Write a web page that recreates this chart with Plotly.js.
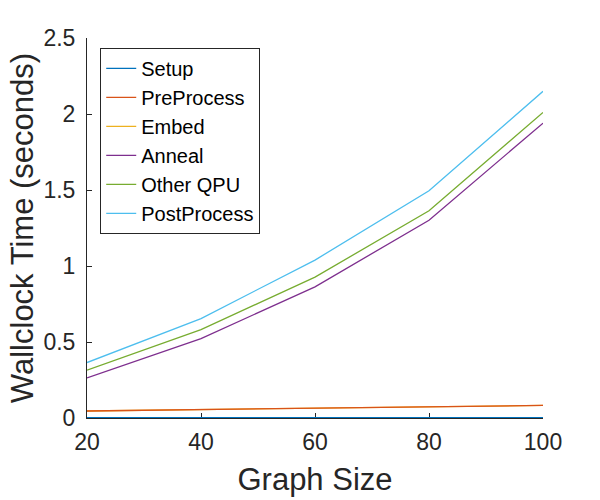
<!DOCTYPE html>
<html>
<head>
<meta charset="utf-8">
<script src="https://cdn.plot.ly/plotly-3.0.1.min.js"></script>
<style>
  body { margin: 0; }
  #chart { width: 600px; height: 500px; }
</style>
</head>
<body>
<div id="chart"></div>
<script>
// graph sizes on the x axis
var sizes = [20, 40, 60, 80, 100];

// cumulative wallclock times (seconds)
var setup       = [0.002, 0.002, 0.003, 0.003, 0.003];
var preProcess  = [0.046, 0.054, 0.064, 0.074, 0.083];
var embed       = [0.046, 0.054, 0.064, 0.074, 0.083];
var anneal      = [0.264, 0.522, 0.863, 1.301, 1.94];
var otherQPU    = [0.315, 0.581, 0.927, 1.363, 2.01];
var postProcess = [0.365, 0.654, 1.039, 1.495, 2.149];

var names  = ['Setup', 'PreProcess', 'Embed', 'Anneal', 'Other QPU', 'PostProcess'];
var series = [setup, preProcess, embed, anneal, otherQPU, postProcess];
var colors = ['#0072BD', '#D95319', '#EDB120', '#7E2F8E', '#77AC30', '#4DBEEE'];

// embed is drawn first so PreProcess sits on top of it (as in the figure)
var drawOrder = [2, 0, 1, 3, 4, 5];
var traces = drawOrder.map(function (i) {
  return {
    x: sizes,
    y: series[i],
    name: names[i],
    type: 'scatter',
    mode: 'lines',
    line: { color: colors[i], width: 1.3 },
    legendrank: i + 1
  };
});

var fam = 'Liberation Sans, Arial, sans-serif';
var axisFont = { family: fam, size: 23, color: '#262626' };

var layout = {
  width: 600,
  height: 500,
  margin: { l: 87, r: 57, t: 38, b: 82 },
  paper_bgcolor: 'white',
  plot_bgcolor: 'white',
  showlegend: true,
  legend: {
    x: 0.029, y: 0.974, xanchor: 'left', yanchor: 'top',
    bordercolor: '#262626', borderwidth: 1, bgcolor: 'white',
    font: { family: fam, size: 20, color: '#000' },
    itemwidth: 30
  },
  xaxis: {
    range: [20, 100],
    tickvals: [20, 40, 60, 80, 100],
    ticks: 'inside', ticklen: 5, tickcolor: '#262626',
    showline: true, linecolor: '#262626', linewidth: 1,
    showgrid: false, zeroline: false,
    layer: 'below traces',
    tickfont: axisFont,
    ticklabelstandoff: 3,
    title: { text: 'Graph Size', font: { family: fam, size: 31, color: '#262626' }, standoff: 14 }
  },
  yaxis: {
    range: [0, 2.5],
    tickvals: [0, 0.5, 1, 1.5, 2, 2.5],
    ticktext: ['0', '0.5', '1', '1.5', '2', '2.5'],
    ticks: 'inside', ticklen: 5, tickcolor: '#262626',
    showline: true, linecolor: '#262626', linewidth: 1,
    showgrid: false, zeroline: false,
    layer: 'below traces',
    tickfont: axisFont,
    ticklabelstandoff: 6,
    title: { text: 'Wallclock Time (seconds)', font: { family: fam, size: 31, color: '#262626' }, standoff: 0 }
  }
};

Plotly.newPlot('chart', traces, layout, { displayModeBar: false, staticPlot: true });
</script>
</body>
</html>
